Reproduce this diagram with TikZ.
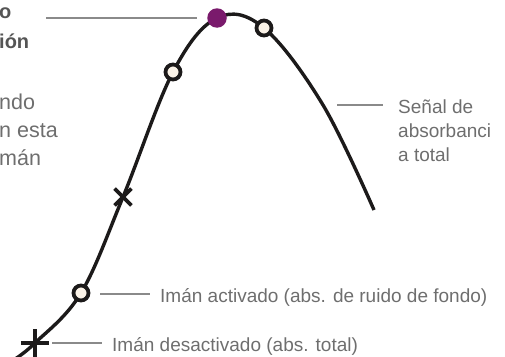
\documentclass[tikz,border=0pt]{standalone}
\usepackage{fontspec}
\setmainfont{Liberation Sans}
\usetikzlibrary{shapes.misc}
\definecolor{txtgray}{HTML}{6E6E6E}
\definecolor{boldgray}{HTML}{555555}
\definecolor{linegray}{HTML}{8A8A8A}
\definecolor{curveblack}{HTML}{1C1A1A}
\definecolor{cream}{HTML}{FBF3E8}
\definecolor{plum}{HTML}{7A1A6C}
\begin{document}
\begin{tikzpicture}[x=1pt,y=-1pt,
  lbl/.style={font=\fontsize{19}{22}\selectfont, text=txtgray, inner sep=0pt, anchor=base west},
  biglbl/.style={lbl, font=\fontsize{21.5}{24}\selectfont},
  boldlbl/.style={lbl, font=\fontsize{20}{22}\selectfont\bfseries, text=boldgray},
  lead/.style={draw=linegray, line width=1.2pt},
  curve/.style={draw=curveblack, line width=3.4pt},
  opendot/.style={circle, draw=curveblack, line width=3.8pt, fill=cream, minimum size=15pt, inner sep=0pt},
  fulldot/.style={circle, fill=plum, minimum size=19.5pt, inner sep=0pt},
  xmark/.style={cross out, draw=curveblack, line width=3.8pt, minimum size=13pt, inner sep=0pt},
  plusmark/.style={xmark, rotate=45, minimum size=16pt}
]
\useasboundingbox (0,0) rectangle (505,356);
% curve
\draw[curve] plot[smooth, tension=0.6] coordinates {(12,361) (35,343) (81,293) (123,197) (173,72) (217,18) (264,28) (323,105) (374,210)};
% markers
\node[plusmark] (m1) at (35,343) {};
\node[opendot] (m2) at (81,293) {};
\node[xmark] (m3) at (123,197) {};
\node[opendot] (m4) at (173,72) {};
\node[fulldot] (m5) at (217,18) {};
\node[opendot] (m6) at (264,28) {};
% leader coordinates
\coordinate (tl1) at (46,18);
\coordinate (tl2) at (197,18);
\coordinate (sl1) at (337,105);
\coordinate (sl2) at (383,105);
\coordinate (al1) at (100,294);
\coordinate (al2) at (150,294);
\coordinate (dl1) at (52,343);
\coordinate (dl2) at (102,343);
\draw[lead] (tl1) -- (tl2);
\draw[lead] (sl1) -- (sl2);
\draw[lead] (al1) -- (al2);
\draw[lead] (dl1) -- (dl2);
% labels
\node[boldlbl] (b1) at (-1,18) {o};
\node[boldlbl] (b2) at (-1,48) {ión};
\node[biglbl] (t1) at (-1,109) {ndo};
\node[biglbl] (t2) at (-1,137) {n esta};
\node[biglbl] (t3) at (-1,165) {mán};
\node[lbl] (s1) at (398,113) {Señal de};
\node[lbl] (s2) at (398,137) {absorbanci};
\node[lbl] (s3) at (398,161) {a total};
\node[lbl] (a1) at (160,302) {Imán activado (abs. de ruido de fondo)};
\node[lbl] (d1) at (112,351) {Imán desactivado (abs. total)};
\end{tikzpicture}
\end{document}
